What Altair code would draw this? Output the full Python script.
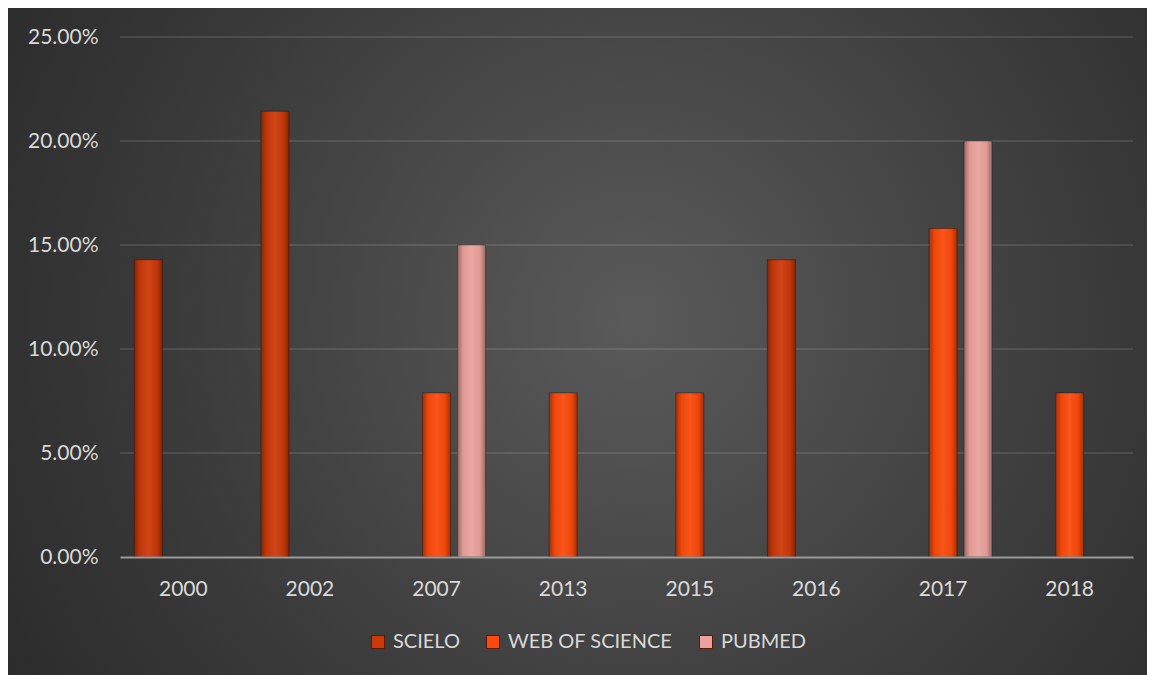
import altair as alt
import pandas as pd

years = ["2000", "2002", "2007", "2013", "2015", "2016", "2017", "2018"]
series = ["SCIELO", "WEB OF SCIENCE", "PUBMED"]
scielo = [0.1429, 0.2143, 0, 0, 0, 0.1429, 0, 0]
wos = [0, 0, 0.0789, 0.0789, 0.0789, 0, 0.1579, 0.0789]
pubmed = [0, 0, 0.15, 0, 0, 0, 0.20, 0]
y_ticks = [0, 0.05, 0.10, 0.15, 0.20, 0.25]
colors = ["#cc3a0a", "#fb4a0c", "#eca29c"]

rows = []
for name, vals in zip(series, [scielo, wos, pubmed]):
    for y, v in zip(years, vals):
        if v > 0:
            rows.append({"year": y, "series": name, "value": v})
df = pd.DataFrame(rows)
grid_df = pd.DataFrame({"value": y_ticks[1:]})

W, H = 1013, 520
PL, PT, PR, PB = 112, 29, 14, 118
FONT = "Lato"
TXT = "#d9d9d9"

bg = alt.Chart(pd.DataFrame({"a": [0]})).mark_rect(
    fill=alt.Gradient(
        gradient="radial",
        stops=[alt.GradientStop(color="#5a5a5a", offset=0),
               alt.GradientStop(color="#3a3a3a", offset=0.55),
               alt.GradientStop(color="#242424", offset=1)],
        x1=0.55, y1=0.48, r1=0, x2=0.55, y2=0.48, r2=0.75,
    )
).encode(
    x=alt.value(-PL), x2=alt.value(W + PR), y=alt.value(-PT), y2=alt.value(H + PB)
)

yscale = alt.Scale(domain=[0, 0.25])
yaxis = alt.Axis(title=None, format=".2%", values=y_ticks,
                 domain=False, ticks=False, labelPadding=22, labelFont=FONT,
                 labelFontSize=21, labelColor=TXT, grid=False, zindex=1)

grid = alt.Chart(grid_df).mark_rule(color="#ffffff", opacity=0.14, strokeWidth=1.5).encode(
    y=alt.Y("value:Q", scale=yscale, axis=yaxis)
)

xenc = alt.X("year:N", sort=years, scale=alt.Scale(paddingInner=0.226, paddingOuter=0.113),
             axis=alt.Axis(title=None, labelAngle=0, ticks=False, domainColor="#9a9a9a",
                           domainWidth=2, labelPadding=21, labelFont=FONT, labelFontSize=21,
                           labelColor=TXT, grid=False, zindex=1))
xoff = alt.XOffset("series:N", sort=series, scale=alt.Scale(domain=series, paddingInner=0.2, paddingOuter=0))
yenc = alt.Y("value:Q", scale=yscale, axis=yaxis)

bars = alt.Chart(df).mark_bar().encode(
    x=xenc, xOffset=xoff, y=yenc,
    color=alt.Color("series:N", sort=series,
                    scale=alt.Scale(domain=series, range=colors),
                    legend=alt.Legend(title=None, orient="none", direction="horizontal",
                                      legendX=248, legendY=595, symbolType="square",
                                      symbolSize=169, symbolStrokeWidth=1,
                                      symbolStrokeColor="#5a1a05", labelLimit=400,
                                      labelFont=FONT, labelFontSize=20, labelColor=TXT,
                                      labelOffset=5, columnPadding=23, zindex=1)),
)

overlay = alt.Chart(df).mark_bar(
    fill=alt.Gradient(
        gradient="linear",
        stops=[alt.GradientStop(color="rgba(0,0,0,0.35)", offset=0),
               alt.GradientStop(color="rgba(0,0,0,0.05)", offset=0.2),
               alt.GradientStop(color="rgba(255,255,255,0.06)", offset=0.5),
               alt.GradientStop(color="rgba(0,0,0,0.05)", offset=0.8),
               alt.GradientStop(color="rgba(0,0,0,0.35)", offset=1)],
        x1=0, x2=1, y1=0, y2=0,
    ),
    stroke="#000000", strokeOpacity=0.35, strokeWidth=1,
).encode(x=xenc, xOffset=xoff, y=yenc)

chart = alt.layer(bg, grid, bars, overlay).properties(
    width=W, height=H, autosize="none",
    padding={"left": PL, "top": PT, "right": PR, "bottom": PB},
    background="#ffffff",
).configure_view(stroke=None)

chart.save("out.html", embed_options={"renderer": "svg", "actions": False})
